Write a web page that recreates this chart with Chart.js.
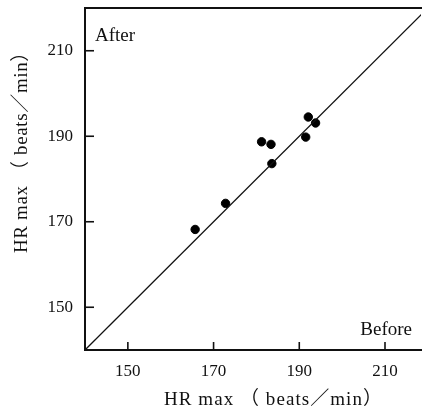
<!DOCTYPE html>
<html><head><meta charset="utf-8">
<script src="https://cdn.jsdelivr.net/npm/chart.js@4/dist/chart.umd.min.js"></script>
<style>html,body{margin:0;padding:0;background:#fff}#wrap{width:422px;height:417px}</style>
</head><body><div id="wrap"><canvas id="c" width="422" height="417"></canvas></div>
<script>
const xTicks = [150, 170, 190, 210];
const yTicks = [150, 170, 190, 210];
const beforeHR = [165.7, 172.8, 181.2, 183.4, 183.6, 191.5, 192.1, 193.8];
const afterHR  = [168.2, 174.3, 188.7, 188.1, 183.6, 189.8, 194.5, 193.1];
const identityLine = [140, 220];
const axisTitle = "HR max （ beats／min）";
const cornerLabels = ["After", "Before"];

const serif = "'Liberation Serif','DejaVu Serif','Noto Sans CJK JP',serif";

const points = beforeHR.map((b, i) => ({x: b, y: afterHR[i]}));
const lineData = identityLine.map(v => ({x: v, y: v}));

function drawSpacedTitle(ctx, text, cx, cy, width) {
  ctx.letterSpacing = '0px';
  const natural = ctx.measureText(text).width;
  const n = Array.from(text).length;
  const s = Math.max(0, (width - natural) / n);
  ctx.letterSpacing = s + 'px';
  ctx.textAlign = 'left';
  ctx.fillText(text, cx - width / 2, cy);
  ctx.letterSpacing = '0px';
}

const decor = {
  id: 'decor',
  afterDraw(chart) {
    const {ctx, chartArea: a, scales: {x, y}} = chart;
    ctx.save();
    ctx.strokeStyle = '#111';
    ctx.lineWidth = 2;
    ctx.beginPath();
    ctx.moveTo(a.left - 1, a.top); ctx.lineTo(a.right + 2, a.top);
    ctx.stroke();
    ctx.lineWidth = 1.6;
    xTicks.forEach(v => { const p = x.getPixelForValue(v); ctx.beginPath(); ctx.moveTo(p, a.bottom); ctx.lineTo(p, a.bottom - 8); ctx.stroke(); });
    yTicks.forEach(v => { const p = y.getPixelForValue(v); ctx.beginPath(); ctx.moveTo(a.left, p); ctx.lineTo(a.left + 9, p); ctx.stroke(); });
    ctx.fillStyle = '#111';
    ctx.font = "19px " + serif;
    ctx.textBaseline = 'alphabetic';
    ctx.textAlign = 'left';
    ctx.fillText(cornerLabels[0], a.left + 10, a.top + 33);
    ctx.textAlign = 'right';
    ctx.fillText(cornerLabels[1], a.right - 9, a.bottom - 15);
    ctx.font = "19px " + serif;
    ctx.textBaseline = 'middle';
    drawSpacedTitle(ctx, axisTitle, a.left + 188.5, a.bottom + 50, 219);
    ctx.translate(22, a.bottom - 202.5);
    ctx.rotate(-Math.PI / 2);
    drawSpacedTitle(ctx, axisTitle, 0, 0, 211);
    ctx.restore();
  }
};

new Chart(document.getElementById('c'), {
  type: 'scatter',
  data: {
    datasets: [
      {type: 'line', data: lineData, borderColor: '#111', borderWidth: 1.3, pointRadius: 0, fill: false, tension: 0},
      {data: points, backgroundColor: '#000', borderColor: '#000', pointRadius: 4.2, pointHoverRadius: 4.2}
    ]
  },
  options: {
    responsive: false,
    animation: false,
    events: [],
    layout: {autoPadding: false, padding: {top: 8, right: 1, bottom: 0, left: 0}},
    plugins: {legend: {display: false}, tooltip: {enabled: false}},
    scales: {
      x: {
        type: 'linear', position: 'bottom', min: 140, max: 218.4,
        grid: {display: false, drawTicks: false},
        border: {display: true, color: '#111', width: 2},
        afterBuildTicks: s => { s.ticks = xTicks.map(v => ({value: v})); },
        afterFit: s => { s.height = 67; s.paddingLeft = 0; s.paddingRight = 0; },
        ticks: {color: '#111', font: {size: 17, family: serif}, padding: 11, maxRotation: 0}
      },
      y: {
        type: 'linear', position: 'left', min: 140, max: 220,
        grid: {display: false, drawTicks: false},
        border: {display: true, color: '#111', width: 2},
        afterBuildTicks: s => { s.ticks = yTicks.map(v => ({value: v})); },
        afterFit: s => { s.width = 85; s.paddingTop = 0; s.paddingBottom = 0; },
        ticks: {color: '#111', font: {size: 17, family: serif}, padding: 12}
      }
    }
  },
  plugins: [decor]
});
</script></body></html>
